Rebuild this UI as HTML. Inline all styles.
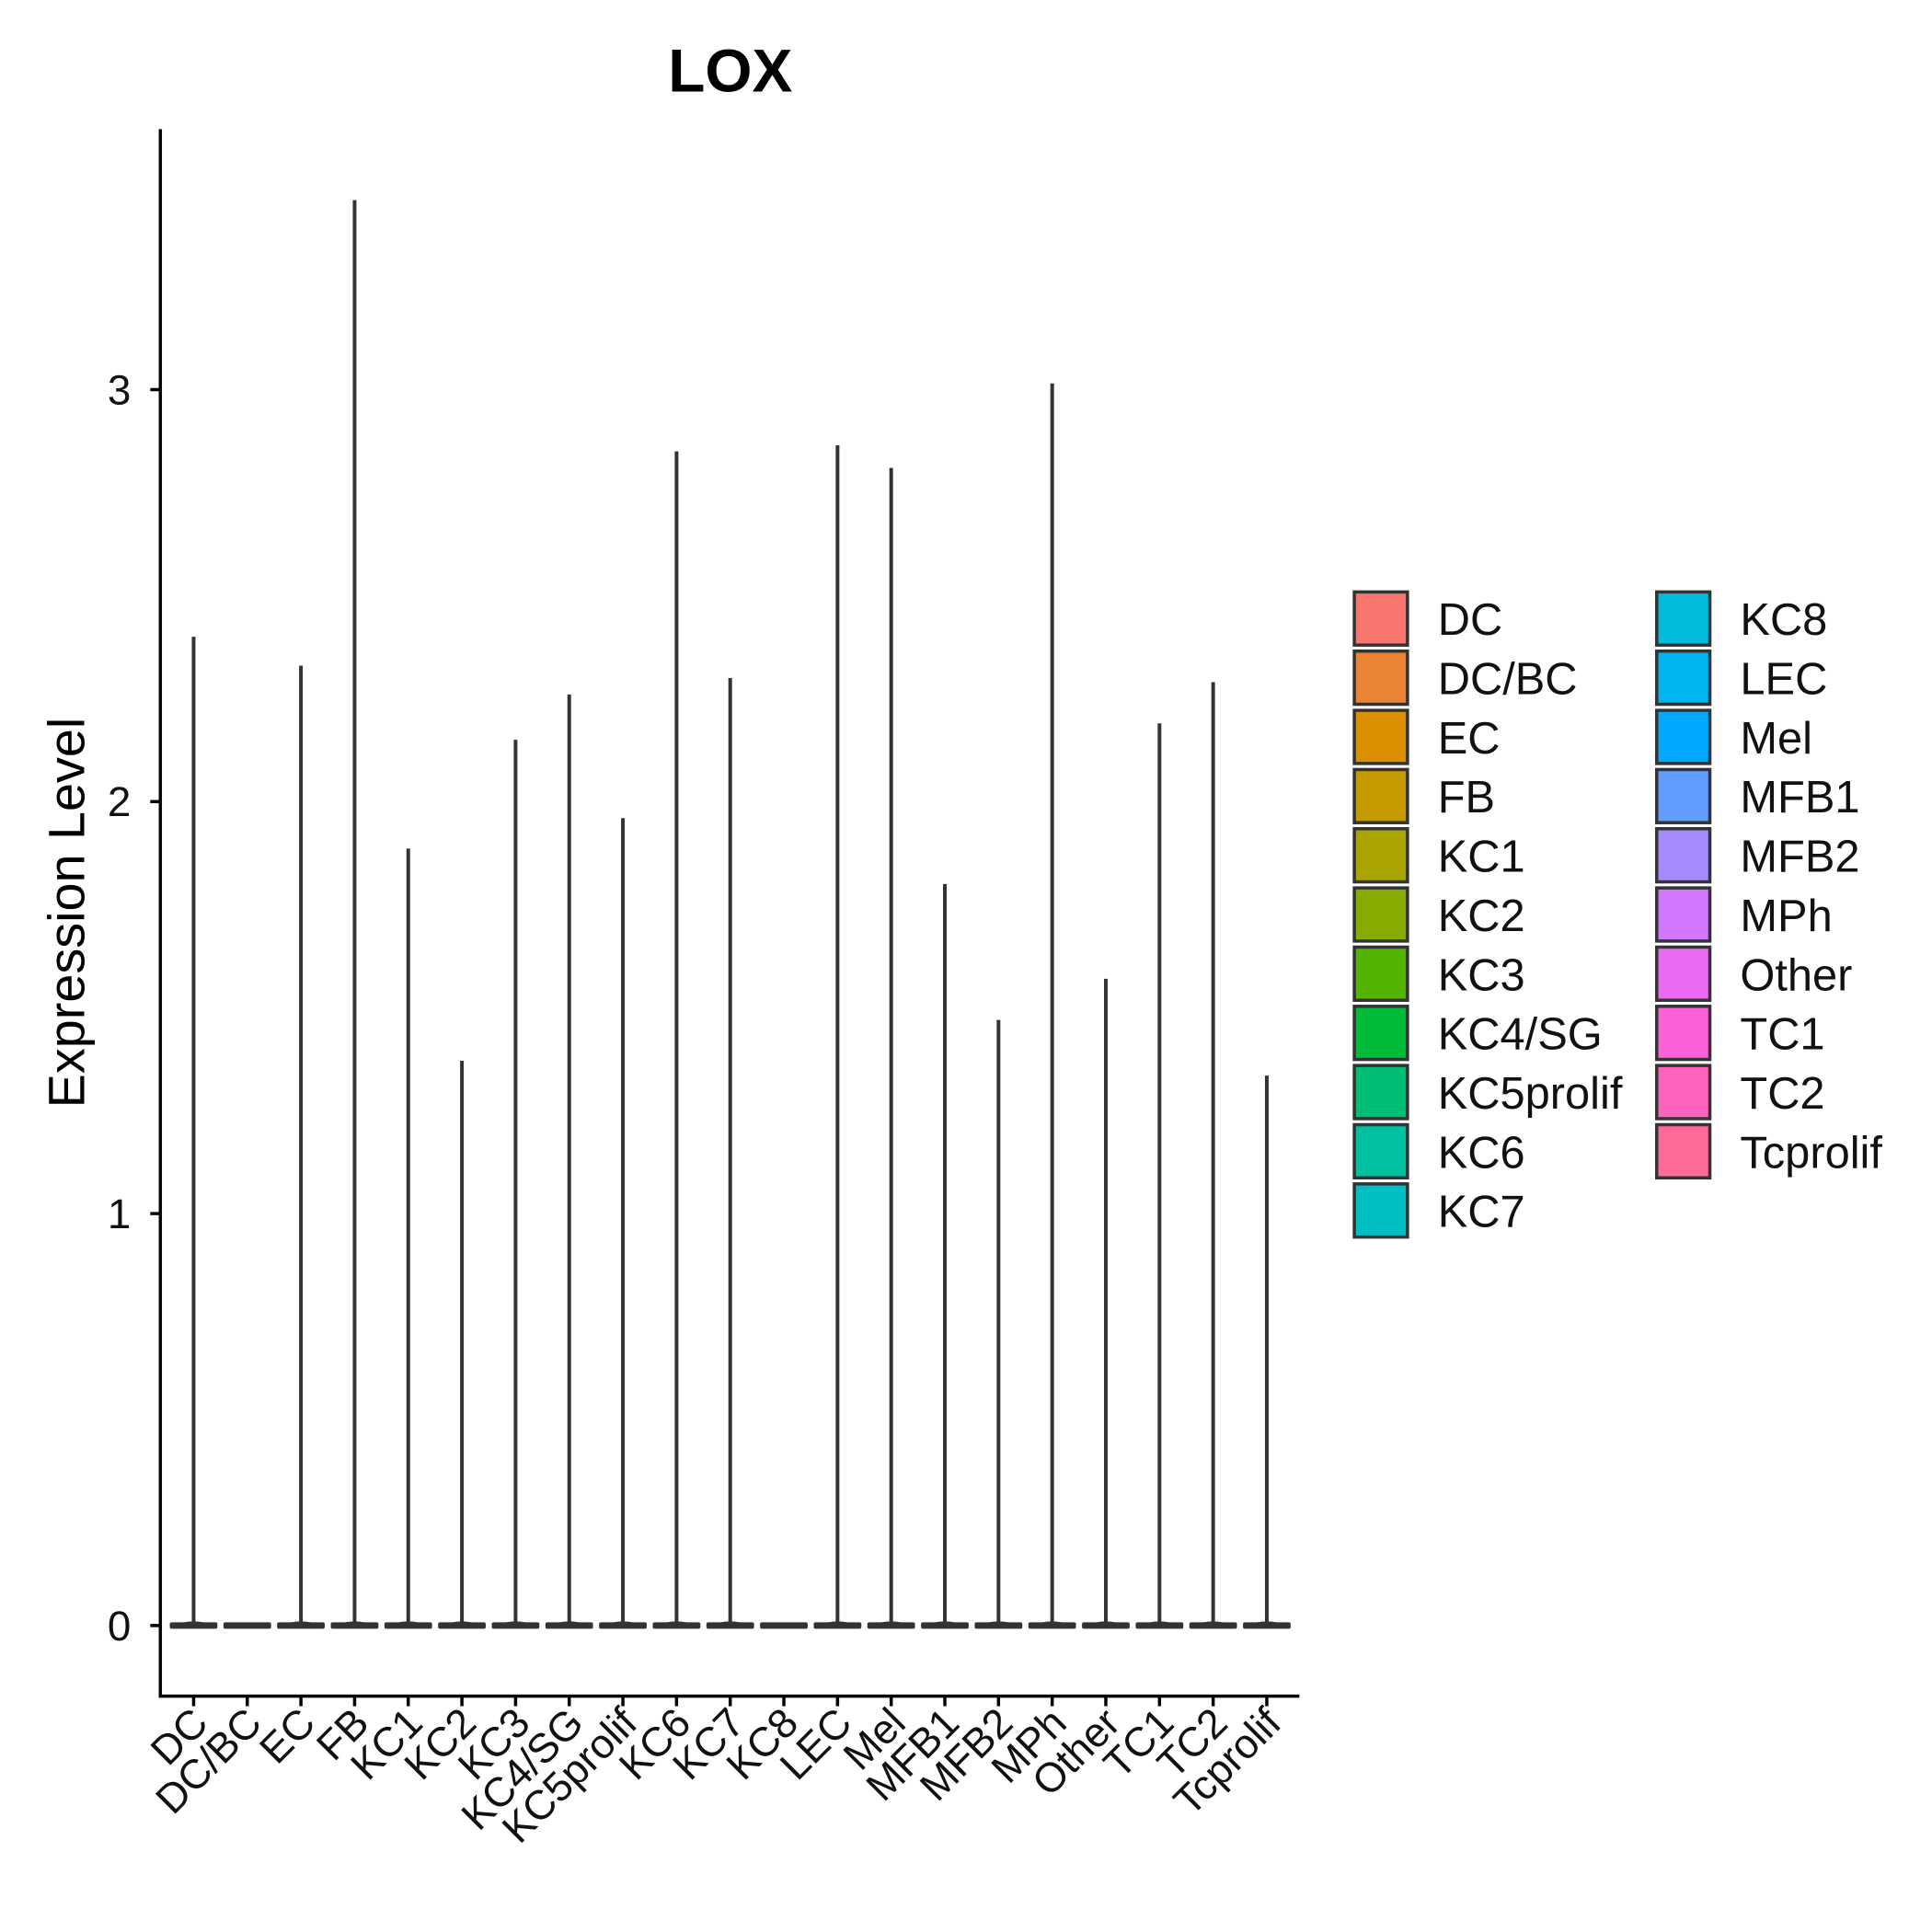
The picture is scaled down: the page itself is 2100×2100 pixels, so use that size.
<!DOCTYPE html>
<html><head><meta charset="utf-8"><style>body{margin:0;background:#fff}svg{display:block;font-family:"Liberation Sans",Arial,sans-serif}</style></head>
<body>
<svg id="chart" width="2100" height="2100" viewBox="0 0 2100 2100" xmlns="http://www.w3.org/2000/svg">
<rect width="2100" height="2100" fill="#fff"/>
<g transform="scale(0.996)">
<text x="797" y="100" font-size="66" font-weight="bold" text-anchor="middle">LOX</text>
<text transform="translate(92,996) rotate(-90)" font-size="56" text-anchor="middle">Expression Level</text>
<g id="plot"></g>
<g id="legend"></g>
</g>
</svg>
<script>
const categories = ["DC","DC/BC","EC","FB","KC1","KC2","KC3","KC4/SG","KC5prolif","KC6","KC7","KC8","LEC","Mel","MFB1","MFB2","MPh","Other","TC1","TC2","Tcprolif"];
const maxValues = [2.40,0,2.33,3.46,1.886,1.371,2.15,2.26,1.96,2.85,2.30,0,2.865,2.81,1.80,1.47,3.015,1.57,2.19,2.29,1.335];
const colors = ["#F8766D","#EB8335","#DA8F00","#C49A00","#A9A400","#86AC00","#53B400","#00BB38","#00BF74","#00C19F","#00BFC4","#00BBDA","#00B4F0","#00A9FF","#619CFF","#A58AFF","#CF78FF","#EA6AF1","#FB61D7","#FF62BC","#FF6A98"];
const yTicks = [0,1,2,3];

const NS="http://www.w3.org/2000/svg";
const plot=document.getElementById('plot');
const legend=document.getElementById('legend');
const X0=175, XR=1418, YB=1851, YT=141;
const yScale=v=>1774-v*449.6;
const xScale=i=>211.3+i*58.56;
function mk(tag,attrs,parent){const e=document.createElementNS(NS,tag);for(const k in attrs)e.setAttribute(k,attrs[k]);parent.appendChild(e);return e;}

let ax=mk('line',{x1:X0,y1:YT,x2:X0,y2:YB+1.5,stroke:'#000','stroke-width':3.5},plot);


ax=mk('line',{x1:X0-1.5,y1:YB,x2:XR,y2:YB,stroke:'#000','stroke-width':3.5},plot);



yTicks.forEach(t=>{
  const y=yScale(t);
  const tk=mk('line',{x1:X0-11,y1:y,x2:X0,y2:y,stroke:'#000','stroke-width':3.5},plot);
  
  
  const tx=mk('text',{x:X0-32,y:y+16,'font-size':46,'text-anchor':'end',fill:'#111'},plot);
  tx.textContent=t;
  
  
});

categories.forEach((c,i)=>{
  const x=xScale(i);
  const tk=mk('line',{x1:x,y1:YB,x2:x,y2:YB+11,stroke:'#000','stroke-width':3.5},plot);
  
  
  const tx=mk('text',{transform:`translate(${x+18},${YB+32}) rotate(-45)`,'font-size':45,'text-anchor':'end',fill:'#111'},plot);
  tx.textContent=c;
  
  
  const g=mk('g',{},plot);
  
  
  const y0=yScale(0);
  mk('rect',{x:x-26,y:y0-3.5,width:52,height:7,rx:2,fill:'#333'},g);
  if(maxValues[i]>0){
    mk('line',{x1:x,y1:yScale(maxValues[i]),x2:x,y2:y0,stroke:'#333','stroke-width':4},g);
    mk('path',{d:`M${x-22},${y0} Q${x},${y0-9} ${x+22},${y0} Z`,fill:'#333'},g);
  }
});

categories.forEach((c,i)=>{
  const col=i<11?0:1, row=i<11?i:i-11;
  const kx=col?1808:1478, lx=col?1899:1569, ky=646+row*64.6;
  const g=mk('g',{},legend);
  
  
  mk('rect',{x:kx,y:ky,width:58,height:58,fill:colors[i],stroke:'#333','stroke-width':3.5},g);
  const t=mk('text',{x:lx,y:ky+47,'font-size':49,fill:'#111'},g);
  t.textContent=c;
});
</script>
</body></html>
